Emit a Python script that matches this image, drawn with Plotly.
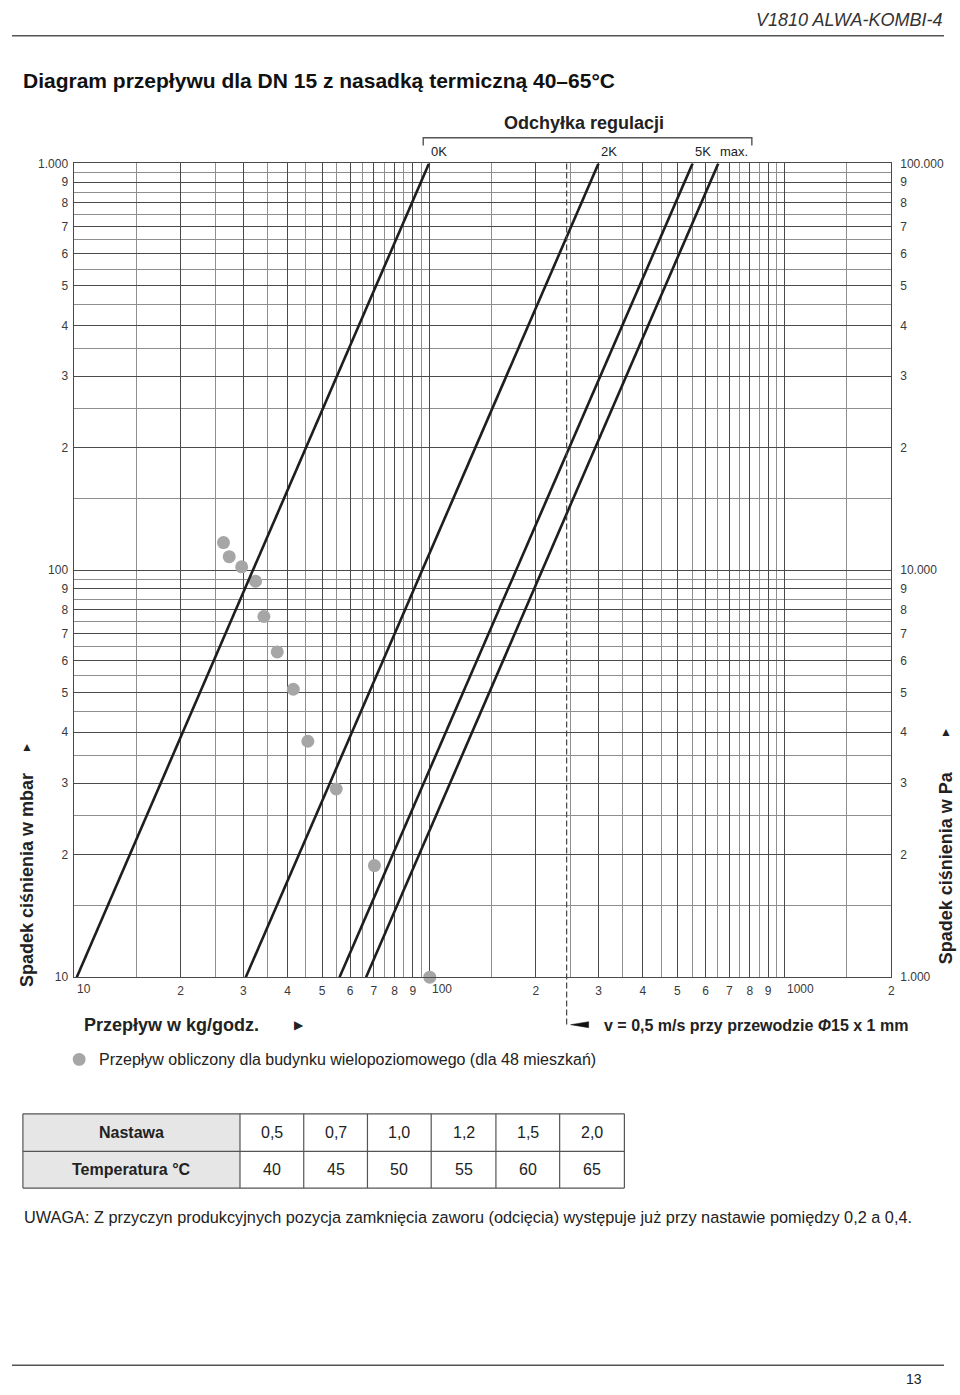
import math
import plotly.graph_objects as go

W, H = 960, 1395


def px(x):
    return x / W


def py(y):
    return 1 - y / H


# ---------------- data ----------------
curve_labels = ["0K", "2K", "5K", "max."]
curve_dp = [10, 1000]                       # mbar at the two ends of each line
curve_flow_lo = [10.2, 30.5, 56.0, 66.5]     # kg/h at 10 mbar
curve_flow_hi = [100.0, 300.0, 552.0, 652.0]  # kg/h at 1000 mbar

dot_flow = [26.4, 27.4, 29.7, 32.5, 34.3, 37.4, 41.5, 45.6, 54.8, 70.2, 100.5]
dot_dp = [117, 108, 102, 94, 77, 63, 51, 38, 29, 18.8, 10]

v_flow = 244  # kg/h for v = 0.5 m/s

x_major = [10, 20, 30, 40, 50, 60, 70, 80, 90,
           100, 200, 300, 400, 500, 600, 700, 800, 900, 1000, 2000]
x_major_text = ["", "2", "3", "4", "5", "6", "7", "8", "9",
                "", "2", "3", "4", "5", "6", "7", "8", "9", "", "2"]
x_decades = [10, 100, 1000]
x_decade_text = ["10", "100", "1000"]
x_minor = [15, 25, 35, 45, 55, 65, 75, 85, 95,
           150, 250, 350, 450, 550, 650, 750, 850, 950, 1500]

y_major = [10, 20, 30, 40, 50, 60, 70, 80, 90,
           100, 200, 300, 400, 500, 600, 700, 800, 900, 1000]
y_major_text = ["10", "2", "3", "4", "5", "6", "7", "8", "9",
                "100", "2", "3", "4", "5", "6", "7", "8", "9", "1.000"]
y_minor = [15, 25, 35, 45, 55, 65, 75, 85, 95,
           150, 250, 350, 450, 550, 650, 750, 850, 950]
y2_major = [v * 100 for v in y_major]
y2_text = ["1.000", "2", "3", "4", "5", "6", "7", "8", "9",
           "10.000", "2", "3", "4", "5", "6", "7", "8", "9", "100.000"]

table_head = ["Nastawa", "Temperatura °C"]
nastawa = ["0,5", "0,7", "1,0", "1,2", "1,5", "2,0"]
temperatura = [40, 45, 50, 55, 60, 65]

# ---------------- styling ----------------
FONT = "Liberation Sans, Arial, Helvetica, sans-serif"
TXT = "#222222"
TICK = "#3a3a3a"
MAJ = "#4a4a4a"
MIN = "#8e8e8e"
DOT = "#a6a6a6"

fig = go.Figure()

fig.add_trace(go.Scatter(
    x=dot_flow, y=dot_dp, mode="markers",
    marker=dict(size=13, color=DOT, line=dict(width=0)),
    cliponaxis=False, hoverinfo="skip", showlegend=False))

for i, lab in enumerate(curve_labels):
    fig.add_trace(go.Scatter(
        x=[curve_flow_lo[i], curve_flow_hi[i]], y=curve_dp, mode="lines",
        line=dict(color="#1e1e1e", width=2.6), hoverinfo="skip",
        showlegend=False, name=lab))

# invisible trace on the Pa axis so it is drawn
fig.add_trace(go.Scatter(x=[], y=[], yaxis="y2", showlegend=False, hoverinfo="skip"))

xdom = [px(74), px(895)]
ydom = [py(980), py(158)]

fig.update_layout(
    width=W, height=H,
    margin=dict(l=0, r=0, t=0, b=0),
    paper_bgcolor="white", plot_bgcolor="white",
    showlegend=False,
    font=dict(family=FONT, color=TXT),
    xaxis=dict(
        type="log", range=[1, math.log10(2000)], domain=xdom,
        tickmode="array", tickvals=x_major, ticktext=x_major_text,
        tickfont=dict(size=12, color=TICK, family=FONT),
        ticks="", ticklabelstandoff=2,
        showgrid=True, gridcolor=MAJ, gridwidth=1.3,
        minor=dict(tickmode="array", tickvals=x_minor, showgrid=True,
                   gridcolor=MIN, gridwidth=1.1, ticks=""),
        showline=True, linecolor=MAJ, linewidth=1.3, mirror=True,
        zeroline=False, fixedrange=True),
    yaxis=dict(
        type="log", range=[1, 3], domain=ydom,
        tickmode="array", tickvals=y_major, ticktext=y_major_text,
        tickfont=dict(size=12, color=TICK, family=FONT),
        ticks="", ticklabelstandoff=2,
        showgrid=True, gridcolor=MAJ, gridwidth=1.3,
        minor=dict(tickmode="array", tickvals=y_minor, showgrid=True,
                   gridcolor=MIN, gridwidth=1.1, ticks=""),
        showline=True, linecolor=MAJ, linewidth=1.3, mirror=True,
        zeroline=False, fixedrange=True),
    yaxis2=dict(
        type="log", range=[3, 5], domain=ydom, overlaying="y", side="right",
        anchor="x", tickmode="array", tickvals=y2_major, ticktext=y2_text,
        tickfont=dict(size=12, color=TICK, family=FONT),
        ticks="", ticklabelstandoff=8, showgrid=False, showline=False,
        zeroline=False, fixedrange=True),
)

ann = []


def A(text, x, y, size=16, xanchor="center", yanchor="middle", xref="paper",
      yref="paper", family=FONT, color=TXT, angle=0, xshift=0):
    ann.append(dict(text=text, x=x, y=y, xref=xref, yref=yref, xanchor=xanchor,
                    yanchor=yanchor, showarrow=False, textangle=angle, xshift=xshift,
                    font=dict(size=size, family=family, color=color)))


A("<i>V1810 ALWA-KOMBI-4</i>", px(948), py(13), size=18, xanchor="right", color="#333")
A("<b>Diagram przepływu dla DN 15 z nasadką termiczną 40–65°C</b>", px(21), py(74),
  size=21, xanchor="left", color="#111")
A("<b>Odchyłka regulacji</b>", px(586), py(117), size=18)
for i, lab in enumerate(curve_labels):
    A(lab, math.log10(curve_flow_hi[i]), py(146), size=13, xanchor="left", xref="x",
      color="#222")
for v, t in zip(x_decades, x_decade_text):
    A(t, math.log10(v), py(992), size=12, xanchor="left", xref="x", color=TICK, xshift=1)

A("<b>Spadek ciśnienia w mbar</b>", px(27), py(882), size=18, angle=-90)
A("▲", px(27), py(748), size=12)
A("<b>Spadek ciśnienia w Pa</b>", px(950), py(870), size=18, angle=-90)
A("▲", px(950), py(732), size=12)
A("<b>Przepływ w kg/godz.</b>", px(82), py(1028), size=18, xanchor="left")
A("▶", px(300), py(1028), size=12)
A("<b>v = 0,5 m/s przy przewodzie <i>Φ</i>15 x 1 mm</b>", px(605), py(1029),
  size=16, xanchor="left")
A("Przepływ obliczony dla budynku wielopoziomowego (dla 48 mieszkań)", px(97), py(1063),
  size=16, xanchor="left")
A("UWAGA: Z przyczyn produkcyjnych pozycja zamknięcia zaworu (odcięcia) występuje już "
  "przy nastawie pomiędzy 0,2 a 0,4.", px(22), py(1222), size=16.3, xanchor="left")
A("13", px(918), py(1386), size=14)

# table
col_edges = [23, 241, 305, 369, 433, 498, 562, 627]
row_edges = [1118, 1156, 1193]
rows = [[f"<b>{table_head[0]}</b>"] + nastawa,
        [f"<b>{table_head[1]}</b>"] + [str(t) for t in temperatura]]
for r, row in enumerate(rows):
    yc = (row_edges[r] + row_edges[r + 1]) / 2
    for c, val in enumerate(row):
        xc = (col_edges[c] + col_edges[c + 1]) / 2
        A(val, px(xc), py(yc), size=16)

shapes = []
LINE = dict(color="#555", width=1.5)
shapes.append(dict(type="line", xref="paper", yref="paper", x0=px(12), x1=px(948),
                   y0=py(29), y1=py(29), line=LINE))
shapes.append(dict(type="line", xref="paper", yref="paper", x0=px(12), x1=px(948),
                   y0=py(1372), y1=py(1372), line=LINE))
# bracket
shapes.append(dict(type="path", xref="paper", yref="paper",
                   path=f"M {px(425)},{py(140)} L {px(425)},{py(132)} L {px(755)},{py(132)} "
                        f"L {px(755)},{py(140)}",
                   line=dict(color="#555", width=1.4)))
# dashed velocity line
shapes.append(dict(type="line", xref="x", yref="paper", x0=v_flow, x1=v_flow,
                   y0=py(158), y1=py(1030),
                   line=dict(color="#444", width=1.2, dash="6px,3px")))
# wedge arrow pointing to dashed line
shapes.append(dict(type="path", xref="x", yref="paper", xsizemode="pixel",
                   ysizemode="pixel", xanchor=v_flow, yanchor=py(1028),
                   path="M 4,0 L 22,3 L 22,-3 Z",
                   fillcolor="#111", line=dict(color="#111", width=0.5)))
# legend dot
shapes.append(dict(type="circle", xref="paper", yref="paper",
                   x0=px(73), x1=px(86), y0=py(1069.5), y1=py(1056.5),
                   fillcolor=DOT, line=dict(width=0)))
# table
shapes.append(dict(type="rect", xref="paper", yref="paper",
                   x0=px(col_edges[0]), x1=px(col_edges[1]),
                   y0=py(row_edges[0]), y1=py(row_edges[-1]),
                   fillcolor="#e6e6e6", line=dict(width=0), layer="below"))
TL = dict(color="#555", width=1.2)
for yv in row_edges:
    shapes.append(dict(type="line", xref="paper", yref="paper",
                       x0=px(col_edges[0]), x1=px(col_edges[-1]),
                       y0=py(yv), y1=py(yv), line=TL))
for xv in col_edges:
    shapes.append(dict(type="line", xref="paper", yref="paper",
                       x0=px(xv), x1=px(xv),
                       y0=py(row_edges[0]), y1=py(row_edges[-1]), line=TL))

fig.update_layout(annotations=ann, shapes=shapes)

fig.write_html("out.html")
